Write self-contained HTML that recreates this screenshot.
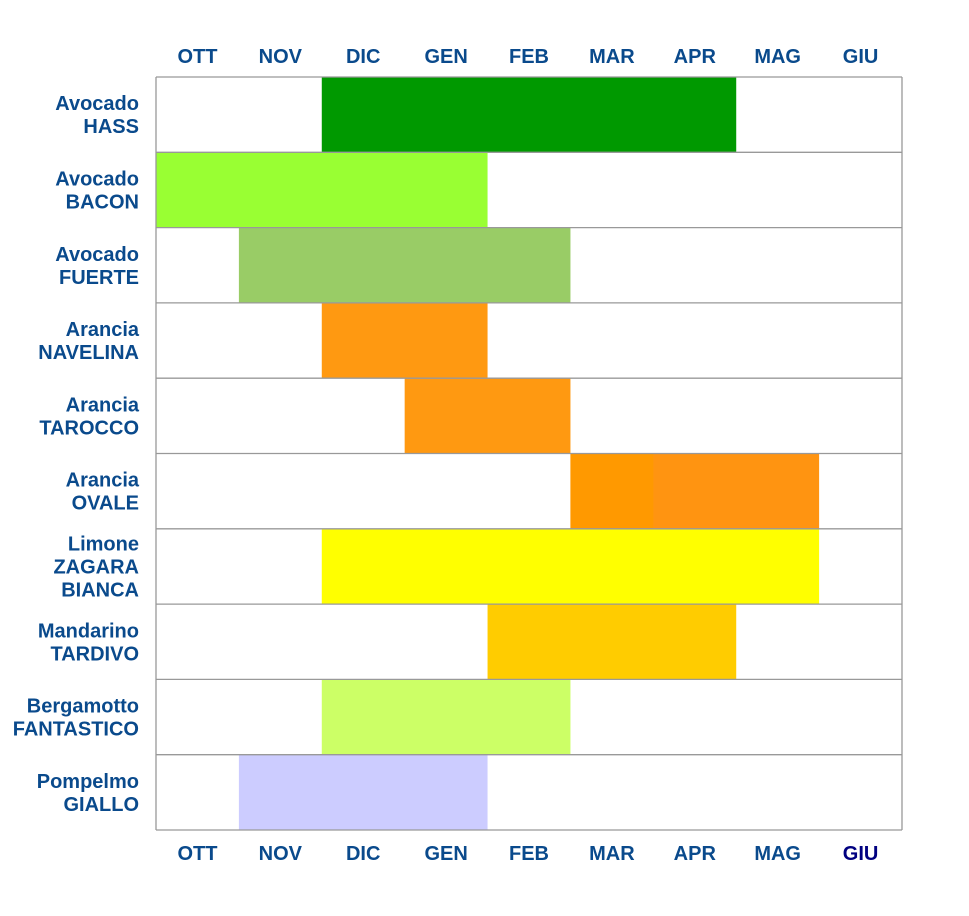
<!DOCTYPE html>
<html><head><meta charset="utf-8"><style>
html,body{margin:0;padding:0;background:#fff;}
svg text{font-family:"Liberation Sans",Arial,sans-serif;font-weight:bold;fill:#0a4a8c;}
</style></head><body>
<svg id="chart" width="969" height="911" xmlns="http://www.w3.org/2000/svg"></svg>
<script>
const months = ["OTT","NOV","DIC","GEN","FEB","MAR","APR","MAG","GIU"];
const products = [["Avocado","HASS"],["Avocado","BACON"],["Avocado","FUERTE"],["Arancia","NAVELINA"],["Arancia","TAROCCO"],["Arancia","OVALE"],["Limone","ZAGARA","BIANCA"],["Mandarino","TARDIVO"],["Bergamotto","FANTASTICO"],["Pompelmo","GIALLO"]];
const startMonth = [2,0,1,2,3,5,2,4,2,1];
const endMonth = [7,4,5,4,5,8,8,7,5,4];
const colors = ["#009900","#99ff33","#99cc66","#ff9911","#ff9911","#ff9411","#ffff00","#ffcc00","#ccff66","#ccccff"];

const svg = document.getElementById('chart');
const NS = "http://www.w3.org/2000/svg";
const L=156,R=902,T=77,B=830;
const cw=(R-L)/months.length, rh=(B-T)/products.length;
const x = m => L + m*cw;
const y = r => T + r*rh;
function mk(tag, attrs){const e=document.createElementNS(NS,tag);for(const k in attrs)e.setAttribute(k,attrs[k]);svg.appendChild(e);return e;}

const frame = mk('rect',{x:L,y:T,width:R-L,height:B-T,fill:'#fff'});



products.forEach((p,i)=>{
  const b = mk('rect',{x:x(startMonth[i]),y:y(i),width:x(endMonth[i])-x(startMonth[i]),height:rh,fill:colors[i]});
  
  
  if(i===5){
    const o = mk('rect',{x:x(startMonth[i]),y:y(i),width:cw,height:rh,fill:'#ff9900'});
    
    
  }
  const n=p.length, lh=23, cy=y(i)+rh/2;
  p.forEach((s,j)=>{
    const t = mk('text',{x:139,y:cy+(j-(n-1)/2)*lh+7,'text-anchor':'end','font-size':20});
    t.textContent=s;
    
    
  });
});
for(let i=0;i<=products.length;i++){
  const l = mk('line',{x1:L,x2:R,y1:y(i),y2:y(i),stroke:'#999','stroke-width':1.3});
  
  
}
[L,R].forEach(xx=>{
  const l = mk('line',{x1:xx,x2:xx,y1:T,y2:B,stroke:'#999','stroke-width':1.3});
  
  
});
months.forEach((m,i)=>{
  const t1 = mk('text',{x:x(i)+cw/2,y:63,'text-anchor':'middle','font-size':20});
  t1.textContent=m;
  
  
  const t2 = mk('text',{x:x(i)+cw/2,y:860,'text-anchor':'middle','font-size':20});
  t2.textContent=m;
  if(i===months.length-1) t2.style.fill='#000080';
  
  
});
</script>
</body></html>
